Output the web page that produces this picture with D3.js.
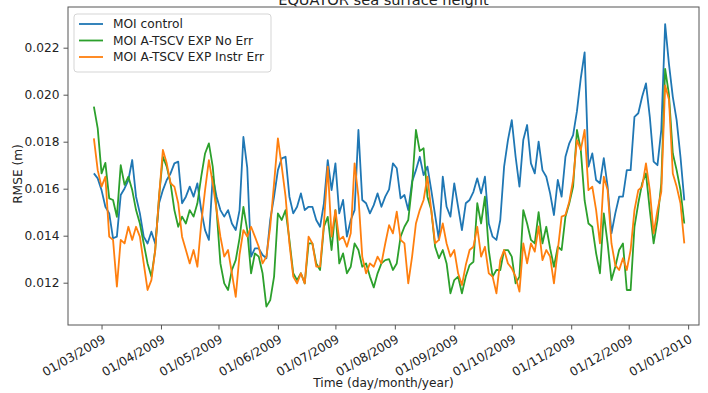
<!DOCTYPE html>
<html><head><meta charset="utf-8">
<script src="https://cdn.jsdelivr.net/npm/d3@7"></script>
<style>body{margin:0;background:#fff} svg{display:block} text{font-family:"DejaVu Sans",sans-serif;fill:#222}</style>
</head><body><svg id="c" width="708" height="393"></svg>
<script>
const titleText = "EQUATOR sea surface height";
const seriesNames = ["MOI control", "MOI A-TSCV EXP No Err", "MOI A-TSCV EXP Instr Err"];
const seriesColors = ["#1f77b4", "#2ca02c", "#ff7f0e"];
const startDate = "2009-02-25";   // first sample, one value every 2 days
const stepDays = 2;
const moiControl = [
0.01665,0.01644,0.01594,0.01523,0.01495,0.01389,0.01396,0.01573,0.01601,0.01637,
0.01722,0.01566,0.01495,0.01396,0.01367,0.01417,0.01367,0.01538,0.01594,0.01637,
0.01665,0.01708,0.01715,0.01538,0.01566,0.01609,0.01566,0.01623,0.01509,0.01424,
0.01382,0.01651,0.01566,0.01509,0.01481,0.01509,0.01452,0.01424,0.01509,0.01820,
0.01690,0.01311,0.01346,0.01346,0.01318,0.01304,0.01467,0.01566,0.01679,0.01729,
0.01736,0.01566,0.01495,0.01523,0.01580,0.01509,0.01523,0.01523,0.01467,0.01438,
0.01538,0.01722,0.01594,0.01708,0.01495,0.01552,0.01396,0.01467,0.01509,0.01850,
0.01552,0.01538,0.01495,0.01530,0.01580,0.01523,0.01566,0.01597,0.01708,0.01687,
0.01559,0.01573,0.01509,0.01630,0.01679,0.01736,0.01658,0.01694,0.01594,0.01488,
0.01382,0.01651,0.01523,0.01481,0.01623,0.01523,0.01424,0.01538,0.01552,0.01587,
0.01644,0.01580,0.01651,0.01452,0.01396,0.01382,0.01467,0.01694,0.01807,0.01892,
0.01736,0.01609,0.01807,0.01871,0.01708,0.01665,0.01800,0.01679,0.01651,0.01580,
0.01488,0.01637,0.01566,0.01736,0.01793,0.01828,0.01930,0.02070,0.02180,0.01694,
0.01750,0.01637,0.01623,0.01730,0.01609,0.01410,0.01495,0.01566,0.01566,0.01679,
0.01679,0.01906,0.01921,0.01991,0.02048,0.01906,0.01715,0.01700,0.01850,0.02300,
0.02130,0.01991,0.01892,0.01736,0.01550];
const noErr = [
0.01949,0.01857,0.01665,0.01710,0.01559,0.01552,0.01480,0.01700,0.01616,0.01651,
0.01594,0.01509,0.01452,0.01367,0.01282,0.01226,0.01339,0.01566,0.01736,0.01694,
0.01623,0.01509,0.01438,0.01481,0.01452,0.01509,0.01481,0.01538,0.01651,0.01750,
0.01793,0.01694,0.01509,0.01282,0.01197,0.01169,0.01254,0.01296,0.01390,0.01523,
0.01424,0.01240,0.01325,0.01311,0.01240,0.01098,0.01126,0.01226,0.01495,0.01467,
0.01509,0.01382,0.01240,0.01211,0.01240,0.01197,0.01367,0.01367,0.01282,0.01254,
0.01438,0.01480,0.01339,0.01509,0.01282,0.01325,0.01240,0.01268,0.01367,0.01339,
0.01268,0.01282,0.01226,0.01180,0.01240,0.01282,0.01296,0.01300,0.01254,0.01282,
0.01396,0.01438,0.01467,0.01616,0.01850,0.01760,0.01772,0.01566,0.01509,0.01353,
0.01304,0.01339,0.01282,0.01155,0.01211,0.01226,0.01155,0.01226,0.01275,0.01289,
0.01538,0.01452,0.01566,0.01339,0.01226,0.01254,0.01254,0.01339,0.01339,0.01311,
0.01197,0.01226,0.01509,0.01452,0.01382,0.01367,0.01500,0.01367,0.01438,0.01346,
0.01268,0.01353,0.01339,0.01481,0.01538,0.01609,0.01850,0.01765,0.01550,0.01452,
0.01438,0.01325,0.01240,0.01495,0.01367,0.01211,0.01268,0.01339,0.01367,0.01169,
0.01169,0.01438,0.01538,0.01623,0.01665,0.01509,0.01367,0.01467,0.01623,0.02110,
0.02000,0.01750,0.01679,0.01594,0.01452];
const instrErr = [
0.01814,0.01679,0.01609,0.01651,0.01396,0.01382,0.01183,0.01382,0.01367,0.01438,
0.01382,0.01438,0.01396,0.01282,0.01169,0.01211,0.01339,0.01566,0.01765,0.01708,
0.01623,0.01609,0.01538,0.01396,0.01339,0.01282,0.01339,0.01268,0.01452,0.01594,
0.01722,0.01623,0.01509,0.01396,0.01311,0.01339,0.01240,0.01140,0.01320,0.01424,
0.01396,0.01438,0.01396,0.01353,0.01282,0.01311,0.01438,0.01623,0.01814,0.01694,
0.01566,0.01367,0.01226,0.01197,0.01240,0.01197,0.01396,0.01367,0.01268,0.01268,
0.01452,0.01694,0.01396,0.01509,0.01382,0.01396,0.01353,0.01410,0.01708,0.01566,
0.01311,0.01240,0.01282,0.01268,0.01311,0.01282,0.01367,0.01445,0.01410,0.01502,
0.01382,0.01367,0.01197,0.01311,0.01452,0.01509,0.01552,0.01651,0.01509,0.01367,
0.01382,0.01452,0.01367,0.01311,0.01339,0.01240,0.01190,0.01275,0.01339,0.01353,
0.01438,0.01311,0.01353,0.01240,0.01226,0.01155,0.01296,0.01339,0.01282,0.01261,
0.01226,0.01162,0.01367,0.01282,0.01367,0.01332,0.01440,0.01296,0.01339,0.01311,
0.01197,0.01339,0.01481,0.01488,0.01545,0.01637,0.01807,0.01765,0.01850,0.01594,
0.01609,0.01509,0.01367,0.01651,0.01594,0.01367,0.01275,0.01254,0.01304,0.01254,
0.01339,0.01509,0.01594,0.01609,0.01708,0.01594,0.01410,0.01509,0.01587,0.02040,
0.01980,0.01665,0.01609,0.01538,0.01367];
const yTicks = [0.012, 0.014, 0.016, 0.018, 0.020, 0.022];
const xTickLabels = ["01/03/2009","01/04/2009","01/05/2009","01/06/2009","01/07/2009","01/08/2009",
                     "01/09/2009","01/10/2009","01/11/2009","01/12/2009","01/01/2010"];
const xLabel = "Time (day/month/year)";
const yLabel = "RMSE (m)";

const parseDMY = d3.timeParse("%d/%m/%Y");
const start = d3.timeParse("%Y-%m-%d")(startDate);
const dates = moiControl.map((_, i) => d3.timeDay.offset(start, i * stepDays));
const series = [moiControl, noErr, instrErr];

const L = 68, R = 699, T = 7, B = 325;
const svg = d3.select("#c");
const x = d3.scaleTime()
  .domain([new Date(2009, 1, 11, 12), new Date(2010, 0, 6, 16)])
  .range([L, R]);
const y = d3.scaleLinear().domain([0.01020, 0.023732]).range([B, T]);

// title (partly cut off at top, as in the reference)
svg.append("text").attr("x", (L + R) / 2).attr("y", 5)
  .attr("text-anchor", "middle").style("font-size", "14.6px").text(titleText);

const plot = svg.append("g");
plot.append("clipPath").attr("id", "clip").append("rect")
  .attr("x", L).attr("y", T).attr("width", R - L).attr("height", B - T);

const line = d3.line().x((d, i) => x(dates[i])).y(d => y(d));
const lines = plot.append("g").attr("clip-path", "url(#clip)");
series.forEach((s, j) => {
  lines.append("path").datum(s).attr("d", line)
    .attr("fill", "none").attr("stroke", seriesColors[j])
    .attr("stroke-width", 1.8).attr("stroke-linejoin", "round");
});

// frame
svg.append("rect").attr("x", L).attr("y", T).attr("width", R - L).attr("height", B - T)
  .attr("fill", "none").attr("stroke", "#555").attr("stroke-width", 1);

// y axis
const ya = svg.append("g").attr("transform", `translate(${L},0)`)
  .call(d3.axisLeft(y).tickValues(yTicks).tickFormat(d3.format(".3f")).tickSize(4.5).tickPadding(4));
ya.select(".domain").remove();
ya.selectAll("line").attr("stroke", "#555");
ya.selectAll("text").style("font-size", "12.2px").attr("fill", "#222");

// x axis
const xTicks = xTickLabels.map(parseDMY);
const xa = svg.append("g").attr("transform", `translate(0,${B})`)
  .call(d3.axisBottom(x).tickValues(xTicks).tickFormat(d3.timeFormat("%d/%m/%Y")).tickSize(4.5).tickPadding(0));
xa.select(".domain").remove();
xa.selectAll("line").attr("stroke", "#555");
xa.selectAll("text")
  .style("font-size", "12.2px").attr("fill", "#222")
  .attr("text-anchor", "end")
  .attr("y", 0).attr("dy", "0.72em")
  .attr("transform", "translate(0,9) rotate(-30)");

// axis labels
svg.append("text").attr("x", (L + R) / 2).attr("y", 387)
  .attr("text-anchor", "middle").style("font-size", "12.2px").text(xLabel);
svg.append("text").attr("transform", `translate(22,${(T + B) / 2 + 8}) rotate(-90)`)
  .attr("text-anchor", "middle").style("font-size", "12.2px").text(yLabel);

// legend
const lg = svg.append("g");
lg.append("rect").attr("x", 74).attr("y", 14).attr("width", 197).attr("height", 58)
  .attr("rx", 3).attr("fill", "#fff").attr("fill-opacity", 0.8).attr("stroke", "#d5d5d5");
seriesNames.forEach((n, j) => {
  const cy = 24 + j * 16.5;
  lg.append("line").attr("x1", 79).attr("x2", 103).attr("y1", cy).attr("y2", cy)
    .attr("stroke", seriesColors[j]).attr("stroke-width", 1.8);
  lg.append("text").attr("x", 113).attr("y", cy).attr("dy", "0.35em")
    .style("font-size", "12.2px").text(n);
});
</script></body></html>
